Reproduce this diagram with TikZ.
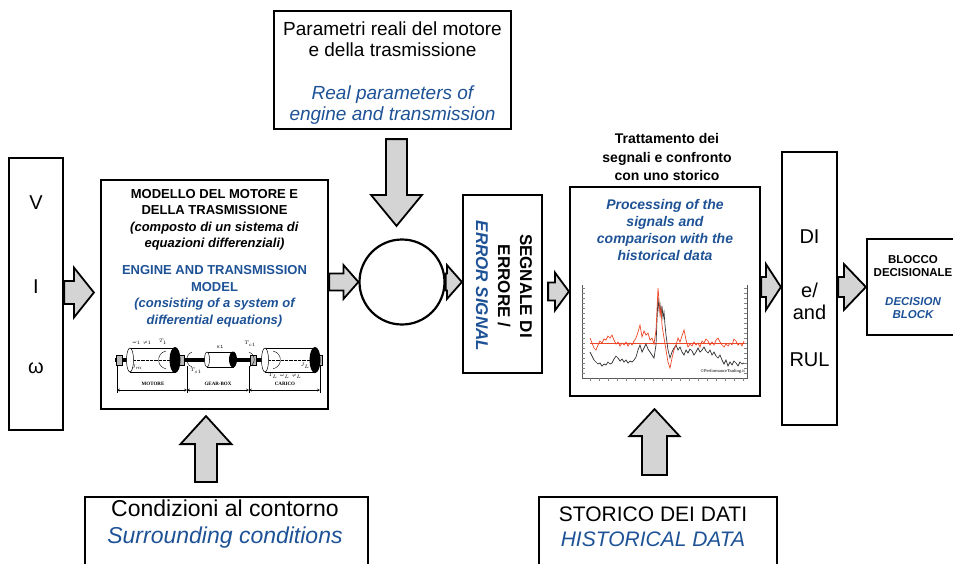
\documentclass[tikz,border=0pt]{standalone}
\usepackage{fontspec}
\setmainfont{Liberation Sans}
\newfontfamily\smserif{Liberation Serif}
\usetikzlibrary{calc}
\definecolor{tblue}{RGB}{30,82,150}
\definecolor{afill}{RGB}{212,212,212}
\definecolor{cred}{RGB}{236,72,40}
\newcommand{\fs}[2]{\fontsize{#1}{#2}\selectfont}
\newcommand{\enit}[1]{\textcolor{tblue}{\itshape #1}}
% fat block arrow: start, end, shaft half-width, head half-width, head length
\newcommand{\bigarrow}[5]{%
  \draw[fatarrow] ($(#1)!#3!90:(#2)$) -- ($(#2)!#5!(#1)!#3!-90:(#1)$) -- ($(#2)!#5!(#1)!#4!-90:(#1)$) -- (#2) -- ($(#2)!#5!(#1)!#4!90:(#1)$) -- ($(#2)!#5!(#1)!#3!90:(#1)$) -- ($(#1)!#3!-90:(#2)$) -- cycle;}
\begin{document}
\begin{tikzpicture}[x=1pt,y=-1pt,
  box/.style={draw, line width=2.2pt, inner sep=0pt},
  fatarrow/.style={draw=black, line width=1.8pt, fill=afill, line join=miter, miter limit=10},
  txt/.style={align=center, inner sep=0pt}]
\useasboundingbox (0,0) rectangle (953,563);

% ---------------- boxes ----------------
\node[box, minimum width=237pt, minimum height=118pt] (top) at (392.5,70) {};
\node[box, minimum width=54pt, minimum height=272pt] (left) at (36,294) {};
\node[box, minimum width=227pt, minimum height=229pt] (model) at (214.5,294.5) {};
\node[draw, circle, line width=2.2pt, minimum size=85pt, inner sep=0pt] (cmp) at (402,282) {};
\node[box, minimum width=79pt, minimum height=178pt] (err) at (502.5,284) {};
\node[box, minimum width=190pt, minimum height=209pt] (chart) at (665,291.5) {};
\node[box, minimum width=55pt, minimum height=273pt] (DI) at (809.5,288.5) {};
\node[box, minimum width=92pt, minimum height=96pt] (dec) at (913,287) {};
\node[box, minimum width=283pt, minimum height=80pt] (bl) at (226.5,537) {};
\node[box, minimum width=238pt, minimum height=80pt] (br) at (658,537) {};

% ---------------- texts ----------------
\node[txt, font=\fs{19}{21}] (toptxt) at (392.5,73) {Parametri reali del motore\\e della trasmissione\\[22pt]\enit{Real parameters of}\\\enit{engine and transmission}};
\node[txt, font=\fs{20}{24}] (vt) at (36,203) {V};
\node[txt, font=\fs{20}{24}] (it) at (36,287) {I};
\node[txt, font=\fs{20}{24}] (wt) at (36,368) {ω};
\node[txt, font=\bfseries\fs{13}{16.4}, anchor=north] (modeltxt) at (214.5,189) {MODELLO DEL MOTORE E\\DELLA TRASMISSIONE\\\textit{(composto di un sistema di}\\\textit{equazioni differenziali)}\\[11pt]\textcolor{tblue}{ENGINE AND TRANSMISSION}\\\textcolor{tblue}{MODEL}\\\enit{(consisting of a system of}\\\enit{differential equations)}};
\node[txt, font=\bfseries\fs{17}{22}, rotate=-90] (errtxt) at (504,286) {SEGNALE DI\\ERRORE /\\\enit{ERROR SIGNAL}};
\node[txt, font=\bfseries\fs{14}{18.5}] (charttitle) at (667,157) {Trattamento dei\\segnali e confronto\\con uno storico};
\node[txt, font=\bfseries\fs{14}{17}, anchor=north] (charttxt) at (665,199) {\enit{Processing of the}\\\enit{signals and}\\\enit{comparison with the}\\\enit{historical data}};
\node[txt, font=\fs{20}{22}] (ditxt) at (809.5,237) {DI};
\node[txt, font=\fs{20}{22}] (andtxt) at (809.5,301) {e/\\and};
\node[txt, font=\fs{20}{22}] (rultxt) at (809.5,360) {RUL};
\node[txt, font=\bfseries\fs{11.5}{13}] (dectxt) at (913,266.5) {BLOCCO\\DECISIONALE};
\node[txt, font=\bfseries\fs{11.5}{13}] (dectxt2) at (913,308.5) {\enit{DECISION}\\\enit{BLOCK}};
\node[txt, font=\fs{23}{27}] (bltxt) at (225,524) {Condizioni al contorno\\\enit{Surrounding conditions}};
\node[txt, font=\fs{21}{25}] (brtxt) at (653,527) {STORICO DEI DATI\\\enit{HISTORICAL DATA}};

% ---------------- connectors (block arrows) ----------------
\coordinate (a2s) at (model.east |- cmp.west);
\coordinate (a3e) at (err.west |- cmp.east);
\coordinate (a4s) at ($(err.east |- chart.west)+(5,0)$);
\coordinate (a5s) at (chart.east |- dec.west);
\coordinate (a5e) at (DI.west |- dec.west);
\coordinate (a6s) at (DI.east |- dec.west);
\coordinate (a1e) at ($(model.west)+(-6,-2)$);
\coordinate (a1s) at (left.east |- a1e);
\coordinate (a7s) at ($(top.south)+(4,9)$);
\coordinate (a7e) at ($(a7s |- cmp.north)+(0,-12.5)$);
\coordinate (a8s) at ($(bl.north)+(-20.5,-14)$);
\coordinate (a8e) at ($(model.south)+(-8.5,6)$);
\coordinate (a9s) at ($(br.north)+(-3.5,-21)$);
\coordinate (a9e) at ($(chart.south)+(-10.5,12)$);
\bigarrow{a1s}{a1e}{11.5pt}{25pt}{20pt}
\bigarrow{a2s}{cmp.west}{8.5pt}{17pt}{15pt}
\bigarrow{cmp.east}{a3e}{8.5pt}{17pt}{15pt}
\bigarrow{a4s}{chart.west}{9pt}{19pt}{14pt}
\bigarrow{a5s}{a5e}{10pt}{23pt}{15pt}
\bigarrow{a6s}{dec.west}{10pt}{23pt}{22pt}
\bigarrow{a7s}{a7e}{10.5pt}{25.5pt}{31pt}
\bigarrow{a8s}{a8e}{11pt}{25.5pt}{28pt}
\bigarrow{a9s}{a9e}{12.5pt}{25pt}{27pt}

% ---------------- engine / transmission sketch ----------------
\begin{scope}[line width=0.5pt]
  \draw[line width=3.2pt] (115,360) -- (323,360);
  \foreach \xx in {119,181,253,319}
    \draw[fill=gray!55, line width=0.3pt] (\xx-3,355) rectangle (\xx+3,365);
  % motor
  \draw[fill=white] (130,348) rectangle (175,372);
  \draw[fill=white] (130,360) ellipse [x radius=3.5pt, y radius=12pt];
  \fill (175,360) ellipse [x radius=5.5pt, y radius=13pt];
  \draw[densely dotted, line width=0.3pt] (134,360) -- (170,360);
  \draw[line width=0.4pt] (166,351) arc [start angle=100, end angle=260, radius=9pt];
  % gear box
  \draw[fill=white] (207,352) rectangle (233,367);
  \draw[fill=white] (207,359.5) ellipse [x radius=2.5pt, y radius=7.5pt];
  \fill (233,359.5) ellipse [x radius=4pt, y radius=8pt];
  \draw[line width=0.4pt] (192,352) arc [start angle=110, end angle=250, radius=8pt];
  \draw[line width=0.4pt] (249,352) arc [start angle=70, end angle=-70, radius=8pt];
  % load
  \draw[fill=white] (265,348) rectangle (315,372);
  \draw[fill=white] (265,360) ellipse [x radius=3.5pt, y radius=12pt];
  \fill (315,360) ellipse [x radius=5.5pt, y radius=13pt];
  \draw[densely dotted, line width=0.3pt] (269,360) -- (310,360);
  \draw[line width=0.4pt] (273,351) arc [start angle=80, end angle=-80, radius=9pt];
  % small labels
  \node[txt, font=\fs{4}{5}] (l1) at (142,343) {$\omega_1$\ \ $\varphi_1$};
  \node[txt, font=\fs{4}{5}] (l2) at (163,342) {$T_1$};
  \node[txt, font=\fs{4}{5}] (l3) at (137,367) {$J_m$};
  \node[txt, font=\fs{4.5}{5}] (l4) at (220,347) {n:1};
  \node[txt, font=\fs{4}{5}] (l5) at (196,371) {$T_{s1}$};
  \node[txt, font=\fs{4}{5}] (l6) at (250,344) {$T_{c1}$};
  \node[txt, font=\fs{4}{5}] (l7) at (285,376) {$T_L$\ \ $\omega_L$\ \ $\varphi_L$};
  \node[txt, font=\fs{4}{5}] (l8) at (305,366) {$J_L$};
  % dimension lines
  \foreach \xx in {117,187,249,320} \draw[line width=0.3pt] (\xx,366) -- (\xx,393);
  \draw[line width=0.3pt, <->, >=stealth] (117,390) -- (187,390);
  \draw[line width=0.3pt, <->, >=stealth] (187,390) -- (249,390);
  \draw[line width=0.3pt, <->, >=stealth] (249,390) -- (320,390);
  \node[txt, font=\smserif\bfseries\fs{5}{6}] (mot) at (153,384) {MOTORE};
  \node[txt, font=\smserif\bfseries\fs{5}{6}] (gb) at (218,384) {GEAR-BOX};
  \node[txt, font=\smserif\bfseries\fs{5}{6}] (car) at (285,384) {CARICO};
\end{scope}

% ---------------- chart ----------------
\begin{scope}[line width=0.4pt]
  \draw[gray!70!black] (582,285) -- (582,378) -- (747,378) -- (747,285);
  \foreach \yy in {288,293,...,375} {\draw[gray] (582,\yy) -- (585,\yy); \draw[gray] (744,\yy) -- (747,\yy);}
  \foreach \xx in {590,599,...,745} \draw[gray] (\xx,378) -- (\xx,381);
  \draw[cred, line width=0.5pt] (590,343) -- (745,343);
  \draw[black!80, line width=0.7pt] plot coordinates {(590,352) (592,356) (594,360) (596,362) (598,364) (600,363) (602,366) (604,364) (606,365) (608,362) (610,364) (612,363) (614,359) (616,356) (618,358) (620,361) (622,359) (624,362) (626,360) (628,363) (630,361) (632,362) (634,360) (636,357) (638,350) (640,345) (642,352) (644,348) (646,344) (648,349) (650,352) (652,355) (654,358) (656,345) (657,320) (658,298) (659,310) (660,304) (661,315) (662,306) (663,318) (664,312) (665,325) (666,335) (668,350) (670,358) (672,352) (674,348) (676,345) (678,350) (680,347) (682,352) (684,355) (686,350) (688,353) (690,349) (692,351) (694,355) (696,352) (698,348) (700,352) (702,350) (704,347) (706,351) (708,353) (710,350) (712,355) (714,352) (716,356) (718,358) (720,355) (722,360) (724,364) (726,360) (728,366) (730,362) (732,365) (734,361) (736,363) (738,366) (740,362) (742,364) (744,363)};
  \draw[cred, line width=0.7pt] plot coordinates {(590,338) (592,343) (594,348) (596,350) (598,345) (600,341) (602,343) (604,339) (606,340) (608,336) (610,338) (612,335) (614,340) (616,344) (618,342) (620,346) (622,343) (624,345) (626,342) (628,346) (630,343) (632,345) (634,341) (636,338) (638,332) (640,325) (642,337) (644,331) (646,335) (648,333) (650,340) (652,338) (654,344) (656,330) (657,310) (658,288) (659,300) (660,315) (661,308) (662,325) (664,338) (666,350) (668,362) (670,368) (672,358) (674,350) (676,345) (678,338) (680,342) (682,336) (684,330) (686,340) (688,347) (690,344) (692,346) (694,342) (696,345) (698,343) (700,347) (702,341) (704,343) (706,339) (708,341) (710,345) (712,342) (714,345) (716,340) (718,338) (720,342) (722,345) (724,347) (726,344) (728,346) (730,343) (732,345) (734,339) (736,341) (738,345) (740,343) (742,346) (744,341)};
  \node[txt, font=\smserif\fs{4.5}{5}, anchor=east] (copy) at (745,371) {©PerformanceTrading.it};
\end{scope}
\end{tikzpicture}
\end{document}
